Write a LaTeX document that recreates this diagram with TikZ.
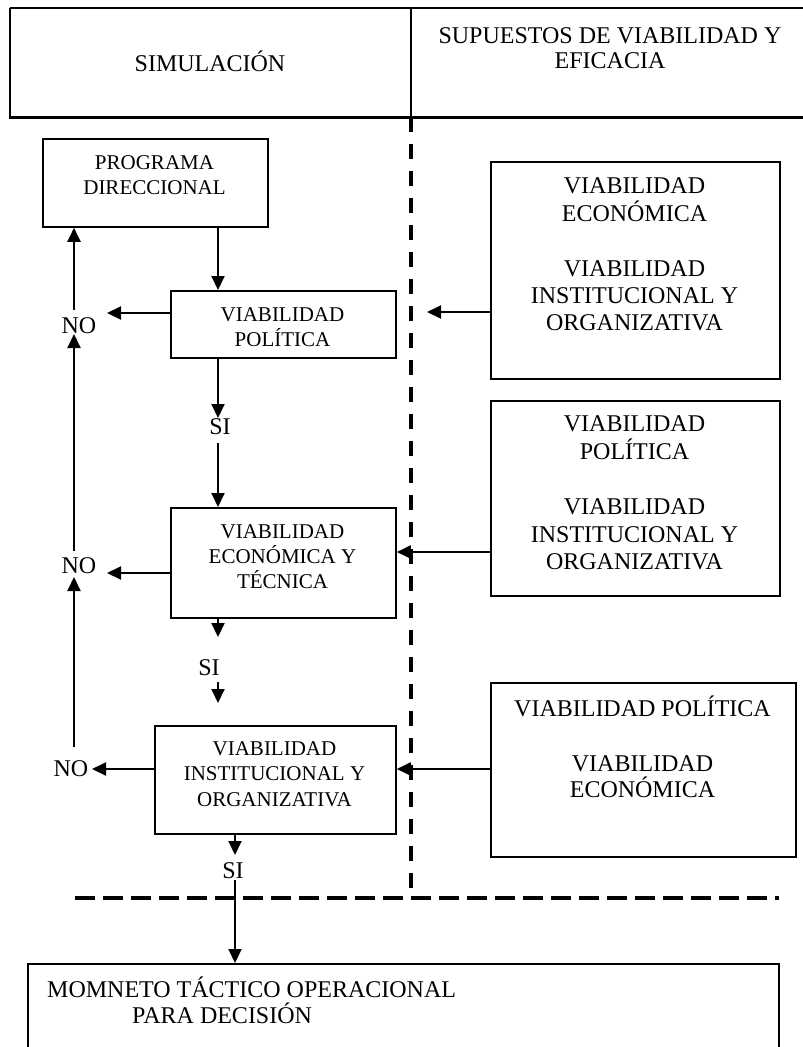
\documentclass[tikz,border=0pt]{standalone}
\usepackage{fontspec}
\setmainfont{Liberation Serif}
\usetikzlibrary{arrows.meta}
\begin{document}
\begin{tikzpicture}[x=1pt,y=-1pt,
  box/.style={draw, line width=1.8pt, inner sep=0pt, anchor=north west},
  big/.style={font=\fontsize{24}{27}\selectfont, inner sep=0pt, anchor=base},
  small/.style={font=\fontsize{21}{25}\selectfont, inner sep=0pt, anchor=base},
  arr/.style={line width=2pt, -{Triangle[length=14pt,width=13pt]}},
  dashline/.style={line width=3.5pt, dash pattern=on 15pt off 12pt},
  hdash/.style={line width=3.5pt, dash pattern=on 20pt off 8pt}]
\useasboundingbox (0,0) rectangle (803,1047);

% header
\draw[line width=1.5pt] (10,8) -- (806,8);
\draw[line width=1.5pt] (10,8) -- (10,117);
\draw[line width=3pt] (9,117) -- (806,117);
\draw[line width=1.8pt] (411,8) -- (411,117);
\node[big] (hsim) at (210,71) {SIMULACIÓN};
\node[big] (hsup1) at (610,43) {SUPUESTOS DE VIABILIDAD Y};
\node[big] (hsup2) at (610,68) {EFICACIA};

% dashed separators
\draw[dashline] (411,117) -- (411,888);
\draw[hdash] (75,898) -- (779,898);

% left boxes
\node[box, minimum width=225pt, minimum height=88pt] (pd) at (42,138) {};
\node[small] (pd1) at (154.5,169) {PROGRAMA};
\node[small] (pd2) at (154.5,194) {DIRECCIONAL};

\node[box, minimum width=225pt, minimum height=67pt] (vp) at (170,290) {};
\node[small] (vp1) at (282.5,321) {VIABILIDAD};
\node[small] (vp2) at (282.5,346) {POLÍTICA};

\node[box, minimum width=225pt, minimum height=110pt] (ve) at (170,507) {};
\node[small] (ve1) at (282.5,538) {VIABILIDAD};
\node[small] (ve2) at (282.5,563) {ECONÓMICA Y};
\node[small] (ve3) at (282.5,588) {TÉCNICA};

\node[box, minimum width=241pt, minimum height=108pt] (vi) at (154,725) {};
\node[small] (vi1) at (274.5,755) {VIABILIDAD};
\node[small] (vi2) at (274.5,780) {INSTITUCIONAL Y};
\node[small] (vi3) at (274.5,806) {ORGANIZATIVA};

% right boxes
\node[box, minimum width=289pt, minimum height=217pt] (r1) at (490,161) {};
\node[big] (r1a) at (634.5,193) {VIABILIDAD};
\node[big] (r1b) at (634.5,221) {ECONÓMICA};
\node[big] (r1c) at (634.5,276) {VIABILIDAD};
\node[big] (r1d) at (634.5,303) {INSTITUCIONAL Y};
\node[big] (r1e) at (634.5,330) {ORGANIZATIVA};

\node[box, minimum width=289pt, minimum height=195pt] (r2) at (490,400) {};
\node[big] (r2a) at (634.5,431) {VIABILIDAD};
\node[big] (r2b) at (634.5,459) {POLÍTICA};
\node[big] (r2c) at (634.5,514) {VIABILIDAD};
\node[big] (r2d) at (634.5,542) {INSTITUCIONAL Y};
\node[big] (r2e) at (634.5,569) {ORGANIZATIVA};

\node[box, minimum width=305pt, minimum height=174pt] (r3) at (490,682) {};
\node[big] (r3a) at (642.5,716) {VIABILIDAD POLÍTICA};
\node[big] (r3b) at (642.5,771) {VIABILIDAD};
\node[big] (r3c) at (642.5,797) {ECONÓMICA};

% bottom box
\node[box, minimum width=751pt, minimum height=110pt] (mt) at (27,963) {};
\node[big, anchor=base west] (mt1) at (47,997) {MOMNETO TÁCTICO OPERACIONAL};
\node[big, anchor=base west] (mt2) at (132,1023) {PARA DECISIÓN};

% labels
\node[big] (no1) at (79,333) {NO};
\node[big] (no2) at (79,573) {NO};
\node[big] (no3) at (71,776) {NO};
\node[big] (si1) at (220,434) {SI};
\node[big] (si2) at (209,675) {SI};
\node[big] (si3) at (233,878) {SI};

% helper coordinates
\coordinate (cx) at (218,0);
\coordinate (cx3) at (235,0);
\coordinate (lx) at (74,0);
\coordinate (y1) at (0,313);
\coordinate (y2) at (0,573);
\coordinate (y3) at (0,769);
\coordinate (yr1) at (0,312);
\coordinate (yr2) at (0,552);
\coordinate (n1e) at (107,313);
\coordinate (n2e) at (107,573);
\coordinate (n3e) at (92,769);
\coordinate (l1a) at (74,310);
\coordinate (l2a) at (74,551);
\coordinate (l2b) at (74,334);
\coordinate (l3a) at (74,747);
\coordinate (l3b) at (74,577);
\coordinate (s1b) at (218,418);
\coordinate (s1c) at (218,443);
\coordinate (s2a) at (218,637);
\coordinate (s2b) at (218,682);
\coordinate (s2c) at (218,703);
\coordinate (s3a) at (235,855);
\coordinate (s3b) at (235,880);
\coordinate (ra) at (427,312);

% main flow
\draw[arr] (cx |- pd.south) -- (cx |- vp.north);
\draw[arr] (cx |- vp.south) -- (s1b);
\draw[arr] (s1c) -- (cx |- ve.north);
\draw[arr] (cx |- ve.south) -- (s2a);
\draw[arr] (s2b) -- (s2c);
\draw[arr] (cx3 |- vi.south) -- (s3a);
\draw[arr] (s3b) -- (cx3 |- mt.north);

% NO branches
\draw[arr] (vp.west |- y1) -- (n1e);
\draw[arr] (ve.west |- y2) -- (n2e);
\draw[arr] (vi.west |- y3) -- (n3e);
\draw[arr] (l1a) -- (lx |- pd.south);
\draw[arr] (l2a) -- (l2b);
\draw[arr] (l3a) -- (l3b);

% right inputs
\draw[arr] (r1.west |- yr1) -- (ra);
\draw[arr] (r2.west |- yr2) -- (ve.east |- yr2);
\draw[arr] (r3.west |- y3) -- (vi.east |- y3);
\end{tikzpicture}
\end{document}
